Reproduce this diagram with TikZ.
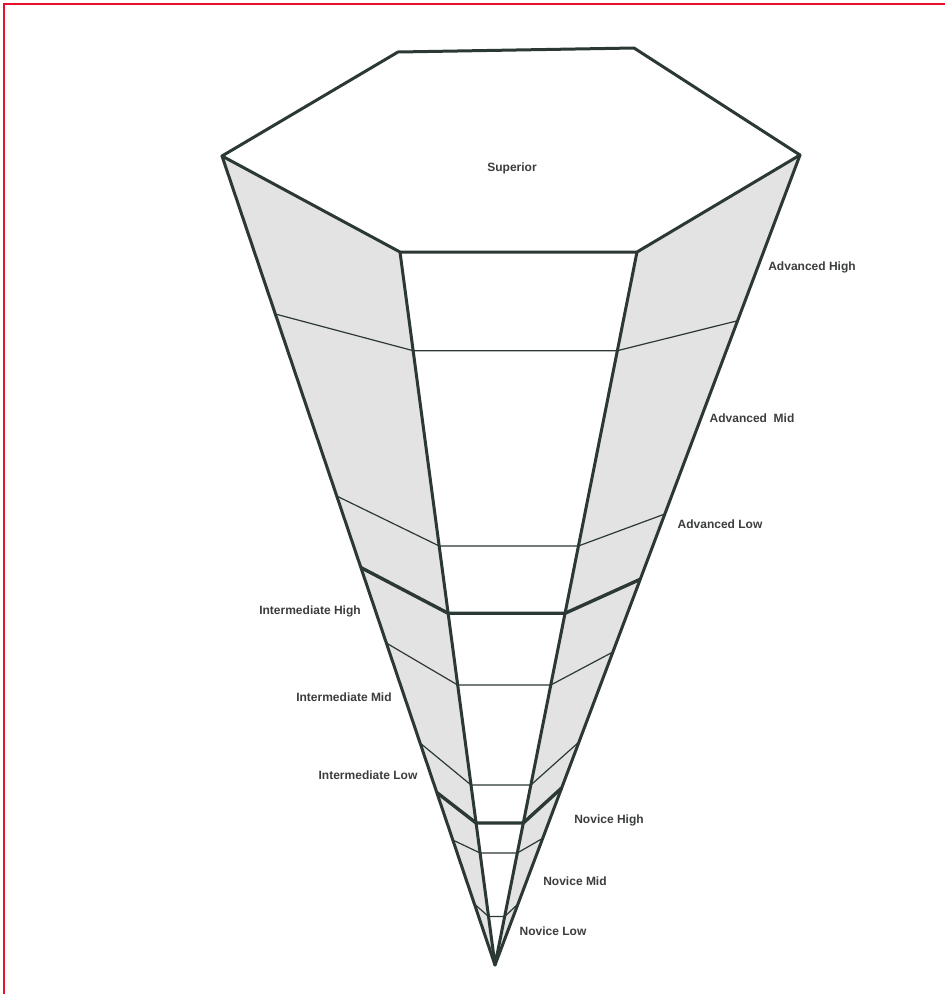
\documentclass[tikz,border=0pt]{standalone}
\usepackage{fontspec}
\setmainfont{Liberation Sans}
\usetikzlibrary{calc}
\definecolor{ink}{RGB}{43,56,53}
\definecolor{face}{RGB}{226,227,226}
\definecolor{txt}{RGB}{60,62,62}
\definecolor{frame}{RGB}{232,16,42}
\tikzset{
  edge/.style={draw=ink, line width=3pt, line join=round, line cap=round},
  thinlvl/.style={draw=ink, line width=1.2pt, line join=round},
  thicklvl/.style={draw=ink, line width=3.4pt, line join=round},
  lbl/.style={text=txt, font=\fontsize{12}{14}\selectfont\bfseries, inner sep=0pt},
  sidefill/.style={fill=face, draw=none}
}
\begin{document}
\begin{tikzpicture}[x=1pt, y=-1pt]
\useasboundingbox (0,0) rectangle (945,994);
\fill[white] (0,0) rectangle (945,994);
% frame seen in reference
\draw[frame, line width=2.2pt] (4,994) -- (4,4) -- (945,4);

% vertices
\coordinate (A) at (398,52);
\coordinate (B) at (634,48);
\coordinate (C) at (800,155);
\coordinate (D) at (637,252);
\coordinate (E) at (400,252);
\coordinate (F) at (222,156);
\coordinate (P) at (495,965);

% shaded side faces
\path[sidefill] (F) -- (E) -- (P) -- cycle;
\path[sidefill] (C) -- (D) -- (P) -- cycle;

% levels
\foreach \i/\a/\b/\c/\s in {
  1/0.1953/0.1384/0.2046/thinlvl,
  2/0.4203/0.4123/0.4432/thinlvl,
  3/0.5087/0.5067/0.5238/thicklvl,
  4/0.6020/0.6073/0.6136/thinlvl,
  5/0.7256/0.7475/0.7247/thinlvl,
  6/0.7868/0.8008/0.7815/thicklvl,
  7/0.8455/0.8429/0.8436/thinlvl,
  8/0.9246/0.9320/0.9247/thinlvl}{
  \coordinate (OL\i) at ($(F)!\a!(P)$);
  \coordinate (IL\i) at ($(E)!\b!(P)$);
  \coordinate (IR\i) at ($(D)!\b!(P)$);
  \coordinate (OR\i) at ($(C)!\c!(P)$);
  \draw[style=\s] (OL\i) -- (IL\i) -- (IR\i) -- (OR\i);
}

% main edges
\draw[edge] (A) -- (B) -- (C) -- (D) -- (E) -- (F) -- cycle;
\draw[edge] (F) -- (P) -- (C);
\draw[edge] (E) -- (P) -- (D);

% labels
\node[lbl] (sup) at (512,168) {Superior};
\node[lbl] (ah) at (812,267) {Advanced High};
\node[lbl] (am) at (752,418) {Advanced\ \ Mid};
\node[lbl] (al) at (720,524) {Advanced Low};
\node[lbl] (ih) at (310,611) {Intermediate High};
\node[lbl] (im) at (344,697) {Intermediate Mid};
\node[lbl] (il) at (368,775) {Intermediate Low};
\node[lbl] (nh) at (609,820) {Novice High};
\node[lbl] (nm) at (575,881) {Novice Mid};
\node[lbl] (nl) at (553,931) {Novice Low};
\end{tikzpicture}
\end{document}
